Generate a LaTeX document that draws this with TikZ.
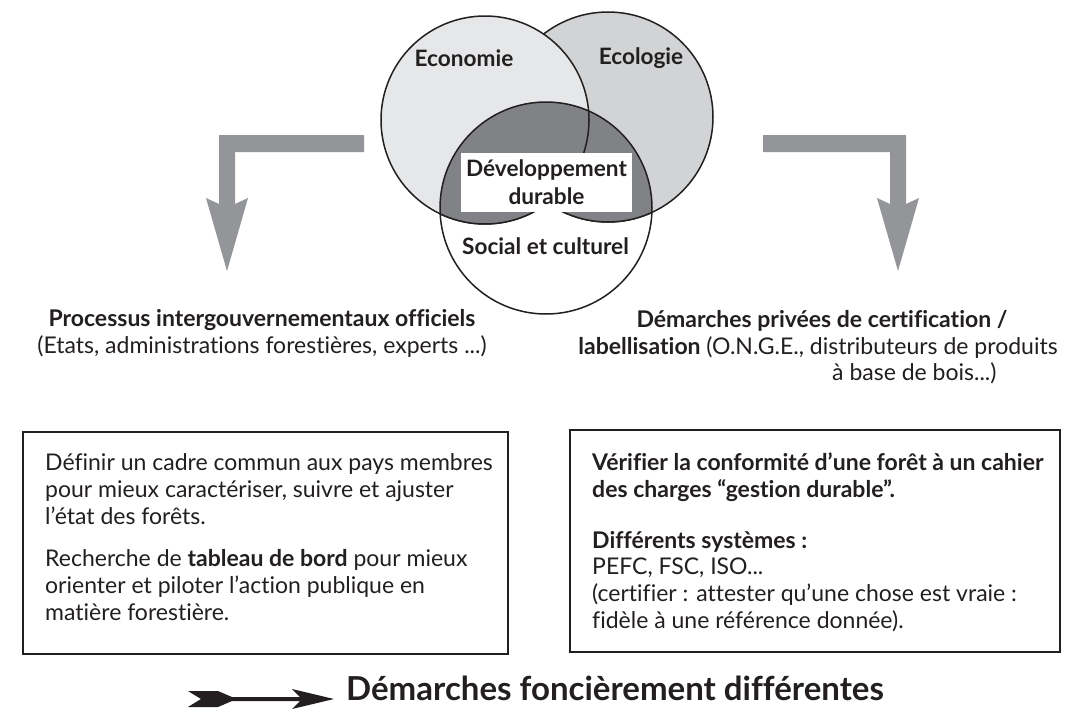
\documentclass[tikz,border=0pt]{standalone}
\usepackage{fontspec}
\setmainfont{Lato}[Ligatures=NoCommon]
\definecolor{txt}{HTML}{231F20}
\definecolor{econ}{HTML}{E6E7E8}
\definecolor{ecol}{HTML}{D1D3D4}
\definecolor{darkv}{HTML}{808285}
\definecolor{agray}{HTML}{939598}
\begin{document}
\begin{tikzpicture}[x=1pt,y=-1pt,
  vline/.style={draw=txt, line width=1.5pt},
  vlbl/.style={font=\fontsize{22.6}{28}\selectfont\bfseries, text=txt, inner sep=0pt, align=center},
  body/.style={font=\fontsize{23}{27}\selectfont, text=txt, inner sep=0pt, anchor=mid west},
  hdr/.style={font=\fontsize{23}{27}\selectfont, text=txt, inner sep=0pt, anchor=mid},
  framebox/.style={draw=txt, line width=2pt, fill=none, inner sep=0pt},
  garrow/.style={fill=agray, draw=none},
  barrow/.style={fill=txt, draw=none}]
\useasboundingbox (0,0) rectangle (1066,718);
\fill[white] (0,0) rectangle (1066,718);
% Venn
\coordinate (cA) at (485,120);
\coordinate (cB) at (608,117);
\coordinate (cC) at (546,208);
\filldraw[vline, fill=ecol] (cB) circle[radius=105pt];
\filldraw[vline, fill=econ] (cA) circle[radius=104pt];
\begin{scope}
  \clip (cC) circle[radius=106pt];
  \fill[darkv] (cB) circle[radius=105pt];
  \draw[vline] (cB) circle[radius=105pt];
  \fill[darkv] (cA) circle[radius=104pt];
  \draw[vline] (cA) circle[radius=104pt];
\end{scope}
\draw[vline] (cC) circle[radius=106pt];
\node[vlbl] (eco) at (464,58) {Economie};
\node[vlbl] (ecg) at (641,58) {Ecologie};
\node[vlbl, fill=white, minimum width=171pt, minimum height=59pt] (dd) at (546.5,182.5) {Développement\\durable};
\node[vlbl] (soc) at (545.5,246) {Social et culturel};
% gray L arrows
\path[garrow] (364,135) -- (219,135) -- (219,204) -- (206,198) -- (227,271) -- (248,198) -- (235,204) -- (235,152) -- (364,152) -- cycle;
\path[garrow] (763,135) -- (906,135) -- (906,204) -- (919,198) -- (898,271) -- (877,198) -- (890,204) -- (890,152) -- (763,152) -- cycle;
% headers
\node[hdr] (h1a) at (262,324) {\bfseries Processus intergouvernementaux officiels};
\node[hdr] (h1b) at (262,351) {(Etats, administrations forestières, experts ...)};
\node[hdr] (h2a) at (822,325) {\bfseries Démarches privées de certification /};
\node[hdr] (h2b) at (818,352) {\textbf{labellisation} (O.N.G.E., distributeurs de produits};
\node[hdr, anchor=mid west] (h2c) at (832,378) {à base de bois...)};
% boxes
\node[framebox, minimum width=485pt, minimum height=222pt] (lbox) at (265.5,543) {};
\node[framebox, minimum width=490pt, minimum height=222pt] (rbox) at (815,541) {};
\node[body] (l1) at (45,468) {Définir un cadre commun aux pays membres};
\node[body] (l2) at (45,495) {pour mieux caractériser, suivre et ajuster};
\node[body] (l3) at (45,522) {l’état des forêts.};
\node[body] (l4) at (45,564) {Recherche de \textbf{tableau de bord} pour mieux};
\node[body] (l5) at (45,591) {orienter et piloter l’action publique en};
\node[body] (l6) at (45,618) {matière forestière.};
\node[body] (r1) at (592,468) {\bfseries Vérifier la conformité d’une forêt à un cahier};
\node[body] (r2) at (592,495) {\bfseries des charges “gestion durable”.};
\node[body] (r3) at (592,546) {\bfseries Différents systèmes :};
\node[body] (r4) at (592,572) {PEFC, FSC, ISO...};
\node[body] (r5) at (592,599) {(certifier : attester qu’une chose est vraie :};
\node[body] (r6) at (592,626) {fidèle à une référence donnée).};
% bottom arrow
\path[barrow] (188,691) -- (218,691) -- (232,697) -- (300,697) -- (292,689) -- (334,699) -- (292,709) -- (300,701) -- (232,701) -- (218,707) -- (188,707) -- (201,699) -- cycle;
\node[font=\fontsize{33}{38}\selectfont\bfseries, text=txt, inner sep=0pt, anchor=mid west] (concl) at (346,698) {Démarches foncièrement différentes};
\end{tikzpicture}
\end{document}
